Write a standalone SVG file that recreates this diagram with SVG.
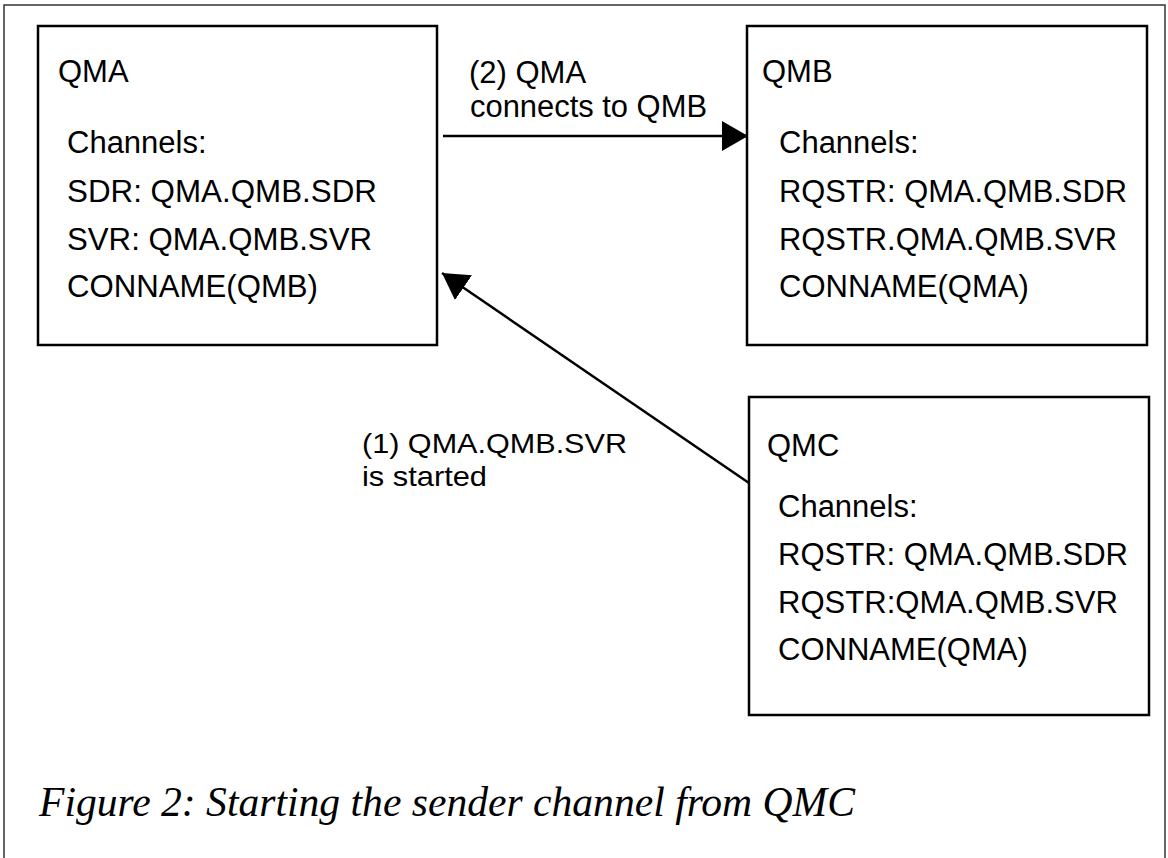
<svg xmlns="http://www.w3.org/2000/svg" width="1168" height="858" viewBox="0 0 1168 858">
<style>
.box{fill:#fff;stroke:#000;stroke-width:2.5}
.t{font-family:"Liberation Sans",Arial,sans-serif;font-size:31px;fill:#000}
.s{font-family:"Liberation Sans",Arial,sans-serif;font-size:28px;fill:#000}
.c{font-family:"Liberation Serif","Times New Roman",serif;font-style:italic;font-size:42px;fill:#000}
.edge{stroke:#000;stroke-width:2.5;fill:none}
</style>
<defs>
<marker id="ah" viewBox="0 0 26 30" refX="26" refY="15" markerWidth="26" markerHeight="30" markerUnits="userSpaceOnUse" orient="auto">
<path d="M0,0 L26,15 L0,30 Z" fill="#000"/>
</marker>
</defs>
<rect width="1168" height="858" fill="#fff"/>
<path d="M4,858 V5 H1165 V858" fill="none" stroke="#333" stroke-width="1.5"/>
<g id="QMA">
<rect class="box" x="38" y="26" width="399" height="319"/>
<text class="t" x="58" y="82">QMA</text>
<text class="t" x="67" y="153">Channels:</text>
<text class="t" x="67" y="202" textLength="310" lengthAdjust="spacingAndGlyphs">SDR: QMA.QMB.SDR</text>
<text class="t" x="67" y="250" textLength="305" lengthAdjust="spacingAndGlyphs">SVR: QMA.QMB.SVR</text>
<text class="t" x="67" y="297" textLength="251" lengthAdjust="spacingAndGlyphs">CONNAME(QMB)</text>
</g>
<g id="QMB">
<rect class="box" x="747" y="26" width="400" height="319"/>
<text class="t" x="762" y="82">QMB</text>
<text class="t" x="779" y="153">Channels:</text>
<text class="t" x="779" y="202" textLength="348" lengthAdjust="spacingAndGlyphs">RQSTR: QMA.QMB.SDR</text>
<text class="t" x="779" y="250" textLength="338" lengthAdjust="spacingAndGlyphs">RQSTR.QMA.QMB.SVR</text>
<text class="t" x="779" y="297">CONNAME(QMA)</text>
</g>
<g id="QMC">
<rect class="box" x="749" y="397" width="400" height="318"/>
<text class="t" x="767" y="456">QMC</text>
<text class="t" x="778" y="517">Channels:</text>
<text class="t" x="778" y="565" textLength="350" lengthAdjust="spacingAndGlyphs">RQSTR: QMA.QMB.SDR</text>
<text class="t" x="778" y="613" textLength="340" lengthAdjust="spacingAndGlyphs">RQSTR:QMA.QMB.SVR</text>
<text class="t" x="778" y="660">CONNAME(QMA)</text>
</g>
<g id="connectors">
<line class="edge" x1="443" y1="136" x2="748" y2="136" marker-end="url(#ah)"/>
<line class="edge" x1="749" y1="483" x2="442" y2="273" marker-end="url(#ah)"/>
<text class="t" x="469" y="83">(2) QMA</text>
<text class="t" x="470" y="117" textLength="237" lengthAdjust="spacingAndGlyphs">connects to QMB</text>
<text class="s" x="362" y="453" textLength="265" lengthAdjust="spacingAndGlyphs">(1) QMA.QMB.SVR</text>
<text class="s" x="362" y="486" textLength="125" lengthAdjust="spacingAndGlyphs">is started</text>
</g>
<text class="c" x="39" y="816" textLength="816" lengthAdjust="spacingAndGlyphs">Figure 2: Starting the sender channel from QMC</text>
</svg>
